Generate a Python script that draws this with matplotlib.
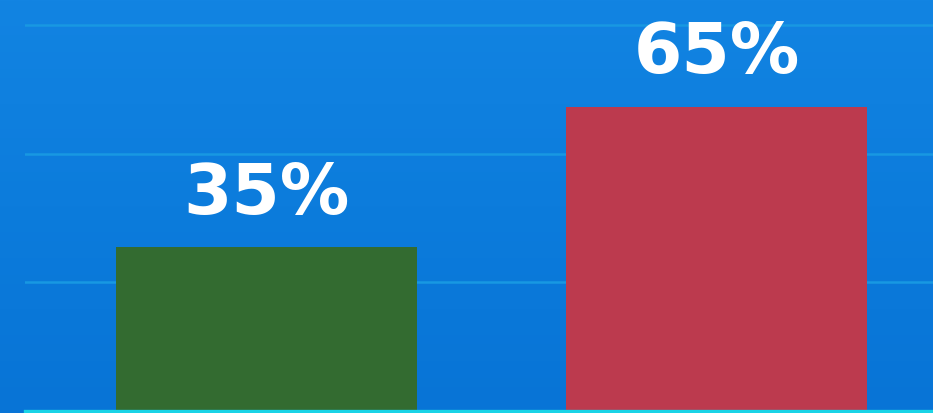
import numpy as np
import matplotlib.pyplot as plt
from matplotlib.colors import LinearSegmentedColormap

# data
groups = ["A", "B"]
shares = [35, 65]
bar_colors = ["#336b30", "#bc3a4e"]
grid_levels = [27.5, 55, 82.5]

W, H, DPI = 933, 413, 100
fig = plt.figure(figsize=(W / DPI, H / DPI), dpi=DPI)

# blue backdrop, slightly darker toward the bottom
bg = fig.add_axes([0, 0, 1, 1])
grad = LinearSegmentedColormap.from_list("bg", ["#1284e2", "#0c7cdc", "#0874d6"])
bg.imshow(np.linspace(0, 1, 256).reshape(-1, 1), aspect="auto", cmap=grad,
          extent=[0, 1, 0, 1], origin="upper")
bg.set_axis_off()

# plot area: x from 25px to right edge, baseline at the bottom edge
ax = fig.add_axes([25 / W, 2 / H, 1 - 25 / W, 411 / H])
ax.set_facecolor("none")
x = np.arange(len(groups))
ax.bar(x, shares, width=0.669, color=bar_colors, zorder=3)

for lvl in grid_levels:
    ax.axhline(lvl, color="#1898e2", lw=1.8, zorder=1)
ax.axhline(0, color="#19d3e6", lw=2.4, zorder=4, clip_on=False)

for xi, v in zip(x, shares):
    ax.annotate(f"{v}%", (xi, v), xytext=(0, 24), textcoords="offset points",
                ha="center", va="baseline", color="white", fontsize=50,
                fontweight="bold", family="DejaVu Sans", zorder=5)

ax.set_xlim(-0.537, 1.481)
ax.set_ylim(0, 411 / 4.68)
ax.set_axis_off()

fig.savefig("out.png", dpi=DPI)
